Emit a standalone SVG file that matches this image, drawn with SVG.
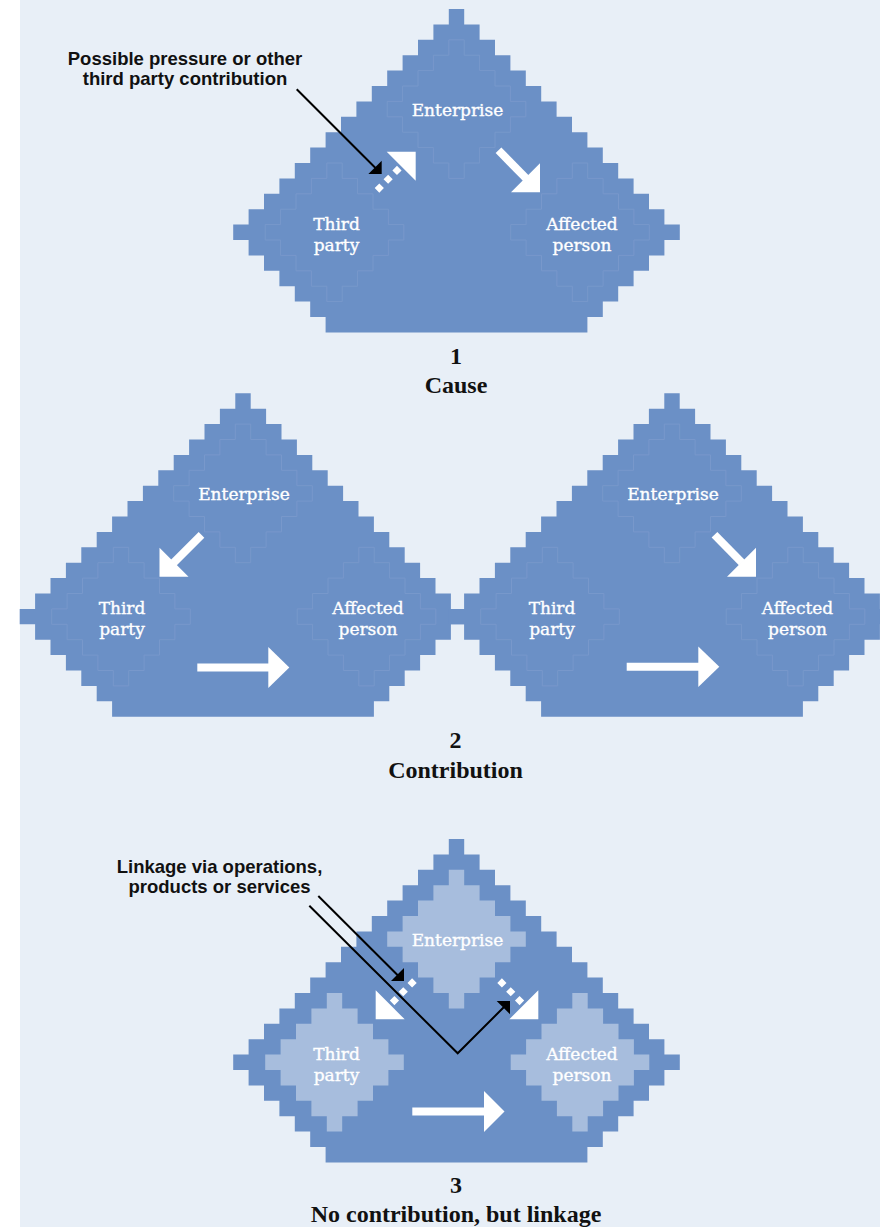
<svg xmlns="http://www.w3.org/2000/svg" width="880" height="1227" viewBox="0 0 880 1227">
<defs>
<path id="big" d="M-7.7 0 h15.4
 v15.4 h15.4  v15.4 h15.4  v15.4 h15.4  v15.4 h15.4  v15.4 h15.4  v15.4 h15.4  v15.4 h15.4
 v15.4 h15.4  v15.4 h15.4  v15.4 h15.4  v15.4 h15.4  v15.4 h15.4  v15.4 h15.4  v15.4 h15.4
 v15.4
 h-15.4 v15.4  h-15.4 v15.4  h-15.4 v15.4  h-15.4 v15.4  h-15.4 v15.4  h-15.4 v15.4
 h-261.8
 v-15.4 h-15.4  v-15.4 h-15.4  v-15.4 h-15.4  v-15.4 h-15.4  v-15.4 h-15.4  v-15.4 h-15.4
 v-15.4
 h15.4 v-15.4  h15.4 v-15.4  h15.4 v-15.4  h15.4 v-15.4  h15.4 v-15.4  h15.4 v-15.4  h15.4 v-15.4
 h15.4 v-15.4  h15.4 v-15.4  h15.4 v-15.4  h15.4 v-15.4  h15.4 v-15.4  h15.4 v-15.4  h15.4 v-15.4
 z"/>
<path id="inner" d="M-7.7 0 h15.4
 v15.4 h15.4  v15.4 h15.4  v15.4 h15.4  v15.4 h15.4
 v15.4
 h-15.4 v15.4  h-15.4 v15.4  h-15.4 v15.4  h-15.4 v15.4
 h-15.4
 v-15.4 h-15.4  v-15.4 h-15.4  v-15.4 h-15.4  v-15.4 h-15.4
 v-15.4
 h15.4 v-15.4  h15.4 v-15.4  h15.4 v-15.4  h15.4 v-15.4
 z"/>
</defs>
<style>
.shape{fill:#6b90c6}
.faint{fill:none;stroke:#7898cb;stroke-width:1}
.light{fill:#a7bddd}
.node{font-family:"DejaVu Serif",serif;font-size:17px;fill:#ffffff;stroke:#ffffff;stroke-width:0.35;text-anchor:middle}
.cap{font-family:"Liberation Serif",serif;font-weight:bold;font-size:24px;fill:#111111;text-anchor:middle}
.lab{font-family:"Liberation Sans",Arial,sans-serif;font-weight:bold;font-size:18.5px;fill:#111111;text-anchor:middle}
.shaft{stroke:#ffffff;stroke-width:8;fill:none}
.dots{stroke:#ffffff;stroke-width:6.5;stroke-dasharray:6.5 6;fill:none}
.head{fill:#ffffff}
.bl{stroke:#000000;stroke-width:2;fill:none}
.bh{fill:#000000}
</style>
<rect x="0" y="0" width="880" height="1227" fill="#ffffff"/>
<rect x="20" y="0" width="860" height="1227" fill="#e8eff7"/>

<!-- Diagram 1 -->
<g id="d1-shape"><use href="#big" x="456.5" y="9" class="shape"/></g>
<g id="d1-enterprise"><use href="#inner" x="456.5" y="39.8" class="faint"/><text class="node" x="457.5" y="116">Enterprise</text></g>
<g id="d1-thirdparty"><use href="#inner" x="334.5" y="163" class="faint"/><text class="node" x="336.5" y="230">Third</text><text class="node" x="336.5" y="250.7">party</text></g>
<g id="d1-affected"><use href="#inner" x="580" y="163" class="faint"/><text class="node" x="582" y="230">Affected</text><text class="node" x="582" y="250.7">person</text></g>
<g id="d1-caption"><text class="cap" x="456" y="364">1</text><text class="cap" x="456" y="393.3">Cause</text></g>
<g id="d1-label"><text class="lab" x="185" y="64.7">Possible pressure or other</text><text class="lab" x="185" y="85.3">third party contribution</text></g>

<!-- Diagram 2 -->
<g id="d2l-shape"><use href="#big" x="243" y="393.3" class="shape"/></g>
<g id="d2r-shape"><use href="#big" x="672" y="393.3" class="shape"/></g>
<g id="d2l-enterprise"><use href="#inner" x="243" y="424.1" class="faint"/><text class="node" x="244" y="500.3">Enterprise</text></g>
<g id="d2l-thirdparty"><use href="#inner" x="121" y="547.3" class="faint"/><text class="node" x="122" y="614.3">Third</text><text class="node" x="122" y="635">party</text></g>
<g id="d2l-affected"><use href="#inner" x="366.5" y="547.3" class="faint"/><text class="node" x="368" y="614.3">Affected</text><text class="node" x="368" y="635">person</text></g>
<g id="d2r-enterprise"><use href="#inner" x="672" y="424.1" class="faint"/><text class="node" x="673" y="500.3">Enterprise</text></g>
<g id="d2r-thirdparty"><use href="#inner" x="550" y="547.3" class="faint"/><text class="node" x="552" y="614.3">Third</text><text class="node" x="552" y="635">party</text></g>
<g id="d2r-affected"><use href="#inner" x="795.5" y="547.3" class="faint"/><text class="node" x="797.5" y="614.3">Affected</text><text class="node" x="797.5" y="635">person</text></g>
<g id="d2-caption"><text class="cap" x="455.5" y="747.7">2</text><text class="cap" x="455.5" y="778.3">Contribution</text></g>

<!-- Diagram 3 -->
<g id="d3-shape"><use href="#big" x="456.5" y="839" class="shape"/></g>
<g id="d3-enterprise"><use href="#inner" x="456.5" y="869.8" class="light"/><text class="node" x="457.5" y="946">Enterprise</text></g>
<g id="d3-thirdparty"><use href="#inner" x="334.5" y="993" class="light"/><text class="node" x="336.5" y="1060">Third</text><text class="node" x="336.5" y="1080.7">party</text></g>
<g id="d3-affected"><use href="#inner" x="580" y="993" class="light"/><text class="node" x="582" y="1060">Affected</text><text class="node" x="582" y="1080.7">person</text></g>
<g id="d3-caption"><text class="cap" x="456" y="1193.3">3</text><text class="cap" x="456" y="1221.7">No contribution, but linkage</text></g>
<g id="d3-label"><text class="lab" x="219.5" y="872.7">Linkage via operations,</text><text class="lab" x="219.5" y="893">products or services</text></g>

<!-- Connectors -->
<g id="connectors">
<line class="dots" x1="377" y1="190.4" x2="399.3" y2="168.1"/>
<polygon class="head" points="415.7,151.7 386.7,151.7 415.7,180.7"/>
<line class="shaft" x1="498.5" y1="150.3" x2="526" y2="178.3"/>
<polygon class="head" points="540,192.3 511,192.3 540,163.3"/>
<line class="bl" x1="296.7" y1="89.3" x2="377" y2="169.5"/>
<polygon class="bh" points="381.7,174 368.4,174 381.7,160.7"/>
<line class="shaft" x1="201.5" y1="534.8" x2="173.5" y2="562.8"/>
<polygon class="head" points="159.5,576.8 159.5,547.8 188.5,576.8"/>
<line class="shaft" x1="197.3" y1="667.5" x2="270" y2="667.5"/>
<polygon class="head" points="268.3,647 268.3,688 289.3,667.5"/>
<line class="shaft" x1="714.5" y1="534.7" x2="742" y2="562.7"/>
<polygon class="head" points="756,576.7 727,576.7 756,547.7"/>
<line class="shaft" x1="626.7" y1="666.8" x2="700" y2="666.8"/>
<polygon class="head" points="698.3,646.5 698.3,687.1 719.3,666.8"/>
<line class="dots" x1="414.4" y1="980.6" x2="392.1" y2="1002.9"/>
<polygon class="head" points="375.7,1019.3 375.7,990.3 404.7,1019.3"/>
<line class="dots" x1="499.6" y1="980.6" x2="521.9" y2="1002.9"/>
<polygon class="head" points="538.3,1019.3 538.3,990.3 509.3,1019.3"/>
<line class="shaft" x1="412.3" y1="1111.5" x2="486" y2="1111.5"/>
<polygon class="head" points="484,1091 484,1132 504.5,1111.5"/>
<line class="bl" x1="318.3" y1="896" x2="400" y2="977.5"/>
<polygon class="bh" points="404,981 391,981 404,968"/>
<polyline class="bl" points="309.3,905.7 457.7,1053.3 506,1005"/>
<polygon class="bh" points="510,1001 496.7,1001 510,1014.3"/>
</g>
</svg>
